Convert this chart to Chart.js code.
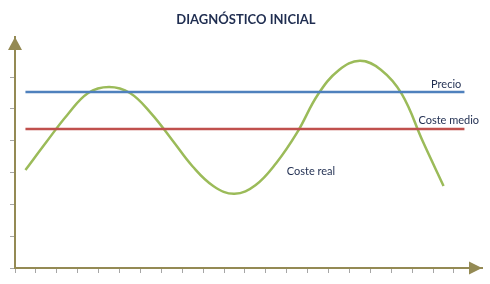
<!DOCTYPE html>
<html>
<head>
<meta charset="utf-8">
<script src="https://cdn.jsdelivr.net/npm/chart.js@4/dist/chart.umd.min.js"></script>
<style>
  html, body { margin: 0; padding: 0; background: #ffffff; }
  #wrap { width: 490px; height: 284px; }
</style>
</head>
<body>
<div id="wrap"><canvas id="c" width="490" height="284"></canvas></div>
<script>
// ---- data ----
const chartTitle = 'DIAGNÓSTICO INICIAL';
const curveX = [0.5, 1.5, 2.5, 3.5, 4.5, 5.5, 6.5, 7.5, 8.5, 9.5, 10.5, 11.5, 12.5, 13.5, 14.5, 15.5, 16.5, 17.5, 18.5, 19.5, 20.5];
const costeReal = [3.08, 3.96, 4.81, 5.50, 5.69, 5.50, 4.87, 4.04, 3.19, 2.57, 2.33, 2.60, 3.30, 4.26, 5.46, 6.22, 6.51, 6.23, 5.47, 3.99, 2.58];
const lineSpan = [0.5, 21.5];
const precio = 5.53;
const costeMedio = 4.37;
const xTickValues = [0, 1, 2, 3, 4, 5, 6, 7, 8, 9, 10, 11, 12, 13, 14, 15, 16, 17, 18, 19, 20, 21];
const yTickValues = [0, 1, 2, 3, 4, 5, 6];
const seriesNames = ['Precio', 'Coste medio', 'Coste real'];

const axisColor = '#948A54';
const textColor = '#1F2D50';

const toPts = (xs, ys) => xs.map((x, i) => ({ x: x, y: ys[i] }));
const flat = (v) => lineSpan.map(x => ({ x: x, y: v }));

const arrowPlugin = {
  id: 'arrows',
  afterDraw(chart) {
    const ctx = chart.ctx, a = chart.chartArea;
    ctx.save();
    ctx.fillStyle = axisColor;
    ctx.beginPath();
    ctx.moveTo(a.left, a.top);
    ctx.lineTo(a.left - 7, a.top + 13);
    ctx.lineTo(a.left + 7, a.top + 13);
    ctx.closePath();
    ctx.fill();
    ctx.beginPath();
    ctx.moveTo(a.right, a.bottom);
    ctx.lineTo(a.right - 13, a.bottom - 6.5);
    ctx.lineTo(a.right - 13, a.bottom + 6.5);
    ctx.closePath();
    ctx.fill();
    ctx.restore();
  }
};

const labelPlugin = {
  id: 'seriesLabels',
  afterDatasetsDraw(chart) {
    const ctx = chart.ctx;
    const xs = chart.scales.x, ys = chart.scales.y;
    ctx.save();
    ctx.fillStyle = textColor;
    ctx.font = '11px Lato, "Open Sans", sans-serif';
    ctx.textBaseline = 'middle';
    ctx.textAlign = 'right';
    ctx.fillText(seriesNames[0], xs.getPixelForValue(21.35), ys.getPixelForValue(precio) - 8);
    ctx.fillText(seriesNames[1], xs.getPixelForValue(22.2), ys.getPixelForValue(costeMedio) - 9);
    ctx.textAlign = 'left';
    ctx.fillText(seriesNames[2], xs.getPixelForValue(13.0), ys.getPixelForValue(3.02));
    ctx.restore();
  }
};

new Chart(document.getElementById('c'), {
  type: 'line',
  data: {
    datasets: [
      { label: seriesNames[0], data: flat(precio), borderColor: '#4F81BD', borderWidth: 2.5, pointRadius: 0, fill: false },
      { label: seriesNames[1], data: flat(costeMedio), borderColor: '#C0504D', borderWidth: 2.5, pointRadius: 0, fill: false },
      { label: seriesNames[2], data: toPts(curveX, costeReal), borderColor: '#9BBB59', borderWidth: 2.5, pointRadius: 0, fill: false, tension: 0.4 }
    ]
  },
  options: {
    responsive: false,
    animation: false,
    events: [],
    layout: { padding: { left: 10, right: 8, top: 0, bottom: 11 } },
    plugins: {
      legend: { display: false },
      tooltip: { enabled: false },
      title: {
        display: true,
        text: chartTitle,
        color: textColor,
        font: { family: 'Lato, "Open Sans", sans-serif', size: 13, weight: 'bold', lineHeight: 1.2 },
        padding: { top: 12, bottom: 9.4 }
      }
    },
    scales: {
      x: {
        type: 'linear',
        min: 0,
        max: 22.34,
        afterBuildTicks: (s) => { s.ticks = xTickValues.map(v => ({ value: v })); },
        afterFit: (s) => { s.height = 5; },
        ticks: { display: false },
        grid: { drawOnChartArea: false, drawTicks: true, tickLength: 5, color: '#A6A6A6', lineWidth: 1 },
        border: { display: true, color: axisColor, width: 2 }
      },
      y: {
        type: 'linear',
        min: 0,
        max: 7.26,
        afterBuildTicks: (s) => { s.ticks = yTickValues.map(v => ({ value: v })); },
        afterFit: (s) => { s.width = 5; },
        ticks: { display: false },
        grid: { drawOnChartArea: false, drawTicks: true, tickLength: 5, color: '#A6A6A6', lineWidth: 1 },
        border: { display: true, color: axisColor, width: 2 }
      }
    }
  },
  plugins: [arrowPlugin, labelPlugin]
});
</script>
</body>
</html>
